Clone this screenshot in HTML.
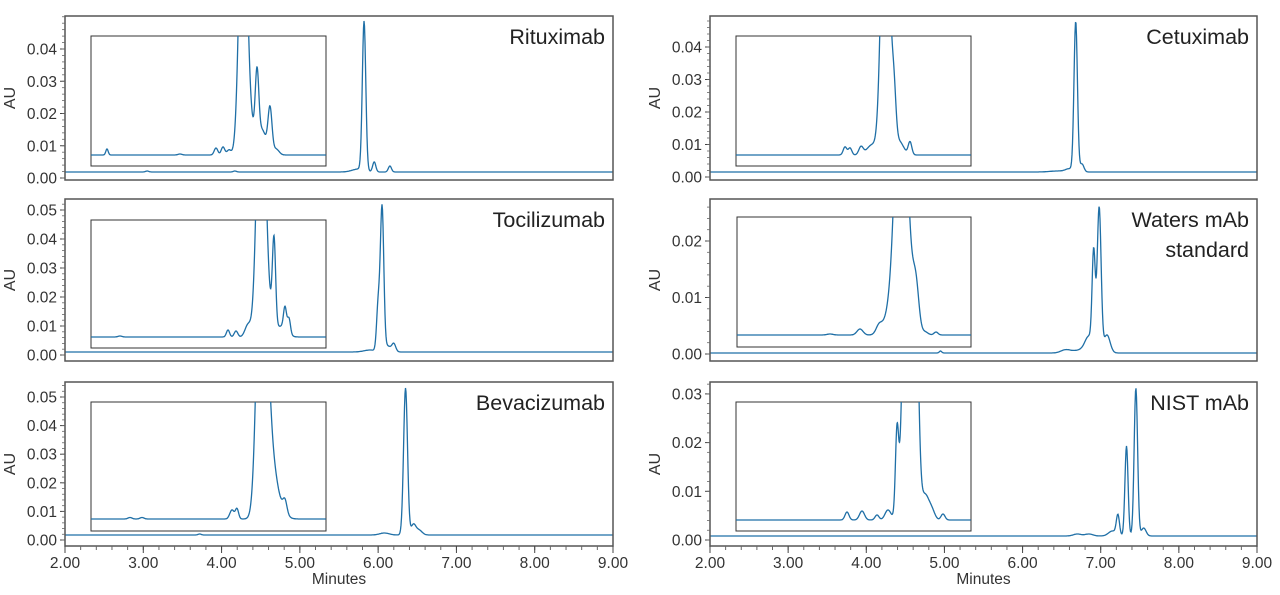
<!DOCTYPE html>
<html><head><meta charset="utf-8"><style>
html,body{margin:0;padding:0;background:#fff;}
svg{display:block;font-family:"Liberation Sans",sans-serif;}
</style></head><body>
<svg id="s" width="1280" height="595" xmlns="http://www.w3.org/2000/svg"></svg>
<script>
const S=document.getElementById('s');let h='';
const C='#1f6fa6';
function g(x,p){let v=0;for(const [c,a,w] of p)v+=a*Math.exp(-0.5*((x-c)/w)**2);return v;}
const panels=[
 {x0:65,x1:613,y0:16,y1:180,zero:178,per:32.25,nt:5,bl:172,title:['Rituximab'],
  main:[[5.82,149,0.022],[5.95,10,0.02],[6.15,6,0.02],[5.75,3,0.08],[3.05,1,0.02],[4.17,1,0.02]],
  ins:{x:91,y:36,w:235,h:130,b:155,p:[[243,300,3.7],[250,30,4],[257,70,1.8],[262,25,4],[270,45,2],[276,6,3],[107,6,1.2],[216,7,1.8],[223,8,1.8],[229,5,2],[180,1,2]]}},
 {x0:65,x1:613,y0:199,y1:361,zero:355,per:29,nt:6,bl:352,title:['Tocilizumab'],
  main:[[6.05,144,0.022],[6.0,45,0.02],[6.2,8,0.025],[6.12,6,0.04],[5.9,2,0.08]],
  ins:{x:91,y:220,w:235,h:128,b:337,p:[[261,300,4],[268,25,5],[274,85,1.6],[285,22,1.5],[289,15,1.5],[282,10,5],[228,7,1.6],[236,6,1.8],[248,12,3],[120,1,2]]}},
 {x0:65,x1:613,y0:382,y1:546,zero:540,per:28.6,nt:6,bl:535,title:['Bevacizumab'],
  main:[[6.35,147,0.025],[6.45,10,0.03],[6.52,5,0.04],[6.08,2,0.06],[3.72,1,0.02]],
  ins:{x:91,y:402,w:235,h:129,b:519,p:[[261,300,4.2],[268,70,3],[272,40,4],[277,20,6],[285,12,2],[232,9,2.2],[237,10,1.6],[130,1.5,2],[142,1.5,2]]}},
 {x0:710,x1:1257,y0:16,y1:180,zero:177,per:32.5,nt:5,bl:172,title:['Cetuximab'],
  main:[[6.68,150,0.022],[6.76,8,0.025],[6.6,3,0.05],[6.45,1,0.1]],
  ins:{x:736,y:36,w:235,h:130,b:155,p:[[885,300,3.8],[890,40,4],[894,40,2],[900,12,4],[910,13,1.8],[845,8,1.8],[850,7,1.8],[861,8,2.2],[872,10,5]]}},
 {x0:710,x1:1257,y0:199,y1:361,zero:354,per:56.5,nt:3,bl:353,title:['Waters mAb','standard'],
  main:[[6.98,145,0.025],[6.91,95,0.02],[7.08,18,0.04],[6.85,15,0.05],[6.55,3,0.06],[6.75,3,0.1],[4.95,2,0.015]],
  ins:{x:737,y:217,w:234,h:130,b:335,p:[[901,300,5.5],[916,40,3],[910,30,5],[879,8,3],[860,6,3],[890,20,6],[925,3,3],[936,3,2],[830,1,3]]}},
 {x0:710,x1:1257,y0:382,y1:546,zero:540,per:48.7,nt:4,bl:536,title:['NIST mAb'],
  main:[[7.45,148,0.022],[7.33,90,0.02],[7.22,20,0.02],[7.55,8,0.03],[7.15,5,0.05],[6.7,2,0.05],[6.85,2,0.05]],
  ins:{x:736,y:402,w:235,h:129,b:520,p:[[897,80,1.6],[906,280,3],[915,280,3],[903,40,4],[925,25,4],[932,8,3],[847,8,2],[862,9,2.5],[877,5,2],[888,10,3],[943,6,2]]}}
];
panels.forEach((P,i)=>{
 const px=m=>P.x0+(m-2)/7*(P.x1-P.x0);
 h+=`<clipPath id="c${i}"><rect x="${P.x0}" y="${P.y0}" width="${P.x1-P.x0}" height="${P.y1-P.y0}"/></clipPath>`;
 h+=`<clipPath id="i${i}"><rect x="${P.ins.x}" y="${P.ins.y}" width="${P.ins.w}" height="${P.ins.h}"/></clipPath>`;
 let d='';
 for(let X=P.x0;X<=P.x1;X+=0.5){const m=2+(X-P.x0)/(P.x1-P.x0)*7;d+=(d?'L':'M')+X.toFixed(1)+','+(P.bl-g(m,P.main)).toFixed(1);}
 h+=`<path d="${d}" fill="none" stroke="${C}" stroke-width="1.3" clip-path="url(#c${i})"/>`;
 const I=P.ins;
 h+=`<rect x="${I.x}" y="${I.y}" width="${I.w}" height="${I.h}" fill="#fff" stroke="#333" stroke-width="1"/>`;
 d='';for(let X=I.x;X<=I.x+I.w;X+=0.3){d+=(d?'L':'M')+X.toFixed(1)+','+(I.b-g(X,I.p)).toFixed(1);}
 h+=`<path d="${d}" fill="none" stroke="${C}" stroke-width="1.3" clip-path="url(#i${i})"/>`;
 h+=`<rect x="${P.x0}" y="${P.y0}" width="${P.x1-P.x0}" height="${P.y1-P.y0}" fill="none" stroke="#555" stroke-width="1.5"/>`;
 for(let k=0;k<P.nt;k++){const y=P.zero-k*P.per;h+=`<line x1="${P.x0-5}" x2="${P.x0}" y1="${y}" y2="${y}" stroke="#444"/>`;
  h+=`<text x="${P.x0-8}" y="${y+5.5}" font-size="15.5" fill="#333" text-anchor="end">${(k/100).toFixed(2)}</text>`;}
 for(let y=P.zero;y>P.y0;y-=P.per/5)h+=`<line x1="${P.x0-3}" x2="${P.x0}" y1="${y}" y2="${y}" stroke="#666" stroke-width="0.8"/>`;
 h+=`<text transform="translate(${P.x0-50},${(P.y0+P.y1)/2}) rotate(-90)" font-size="16" fill="#333" text-anchor="middle">AU</text>`;
 P.title.forEach((t,j)=>h+=`<text x="${P.x1-8}" y="${P.y0+28+j*30}" font-size="21.5" fill="#222" text-anchor="end">${t}</text>`);
 if(i==2||i==5){
  for(let m=2;m<=9.001;m+=0.2){const x=px(m);h+=`<line x1="${x}" x2="${x}" y1="${P.y1}" y2="${P.y1+4}" stroke="#666"/>`;}
  for(let m=2;m<=9;m++){const x=px(m);h+=`<line x1="${x}" x2="${x}" y1="${P.y1}" y2="${P.y1+7}" stroke="#444"/>`;
   h+=`<text x="${x}" y="${P.y1+22}" font-size="15.5" fill="#333" text-anchor="middle">${m.toFixed(2)}</text>`;}
  h+=`<text x="${(P.x0+P.x1)/2}" y="${P.y1+38}" font-size="15.5" fill="#333" text-anchor="middle">Minutes</text>`;
 }
});
S.innerHTML=h;
</script>
</body></html>
